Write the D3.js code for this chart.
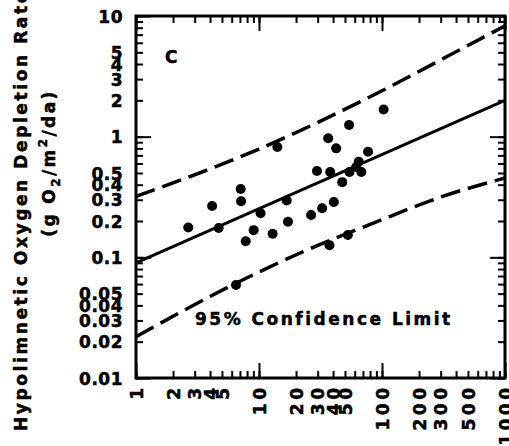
<!DOCTYPE html>
<html>
<head>
<meta charset="utf-8">
<script src="https://cdn.jsdelivr.net/npm/d3@7"></script>
<style>
body { margin: 0; background: #fff; }
svg { display: block; }
text { font-family: "DejaVu Sans", sans-serif; font-weight: bold; fill: #000; stroke: #000; stroke-width: 0.5px; }
</style>
</head>
<body>
<svg id="chart" width="509" height="446"></svg>
<script>
// tick labels
const xTickLabels = [1, 2, 3, 4, 5, 10, 20, 30, 40, 50, 100, 200, 300, 500, 1000];
const yTickLabels = [0.01, 0.02, 0.03, 0.04, 0.05, 0.1, 0.2, 0.3, 0.4, 0.5, 1, 2, 3, 4, 5, 10];

const obsX = [2.66, 4.16, 7.1, 7.15, 4.7, 10.3, 9.05, 7.8, 12.9, 17.2, 16.8, 14.1, 6.5,
	103, 54, 36.5, 42.4, 77, 64.7, 61.8, 67.9, 29.6, 37.9, 54.4, 47.5, 40.6, 32.6, 26.5, 52.8, 37.4];
const obsY = [0.177, 0.266, 0.368, 0.292, 0.175, 0.232, 0.168, 0.136, 0.157, 0.197, 0.296, 0.82, 0.059,
	1.68, 1.25, 0.97, 0.80, 0.75, 0.62, 0.56, 0.51, 0.52, 0.51, 0.51, 0.42, 0.287, 0.255, 0.224, 0.153, 0.126];

// regression line
const fitX = [1, 1000];
const fitY = [0.09, 2.0];

// 95% confidence limits
const upperX = [1, 10, 100, 350, 1000];
const upperY = [0.32, 0.79, 2.4, 4.7, 8.3];
const lowerX = [1, 6.5, 25, 85, 300, 1000];
const lowerY = [0.022, 0.061, 0.116, 0.192, 0.316, 0.454];

const chart = d3.select('#chart');

const plotLeft = 136, plotRight = 505, plotTop = 16, plotBottom = 378;

const x = d3.scaleLog().domain([1, 1000]).range([plotLeft, plotRight]);
const y = d3.scaleLog().domain([0.01, 10]).range([plotBottom, plotTop]);

const minorX = x.ticks();
const minorY = y.ticks();
const majorX = [1, 10, 100, 1000];
const majorY = [0.01, 0.1, 1, 10];

function ticks(axis, tr, values, size) {
	const g = chart.append('g')
		.attr('transform', tr)
		.call(axis.tickValues(values).tickSize(size).tickFormat(''));
	g.select('.domain').remove();
	g.selectAll('line').attr('stroke', '#000').attr('stroke-width', 2);
	return g;
}

// inward ticks on all four sides
ticks(d3.axisBottom(x), `translate(0,${plotBottom})`, minorX, -7);
ticks(d3.axisBottom(x), `translate(0,${plotBottom})`, majorX, -15);
ticks(d3.axisTop(x), `translate(0,${plotTop})`, minorX, -7);
ticks(d3.axisTop(x), `translate(0,${plotTop})`, majorX, -15);
ticks(d3.axisLeft(y), `translate(${plotLeft},0)`, minorY, -7);
ticks(d3.axisLeft(y), `translate(${plotLeft},0)`, majorY, -15);
ticks(d3.axisRight(y), `translate(${plotRight},0)`, minorY, -7);
ticks(d3.axisRight(y), `translate(${plotRight},0)`, majorY, -15);

// frame
chart.append('rect')
	.attr('x', plotLeft)
	.attr('y', plotTop)
	.attr('width', plotRight - plotLeft)
	.attr('height', plotBottom - plotTop)
	.attr('fill', 'none')
	.attr('stroke', '#000')
	.attr('stroke-width', 3);

// y labels
const yAx = chart.append('g')
	.attr('transform', `translate(${plotLeft},0)`)
	.call(d3.axisLeft(y).tickValues(yTickLabels).tickSize(0).tickPadding(13).tickFormat(d => String(d)));
yAx.select('.domain').remove();
yAx.selectAll('text')
	.attr('font-size', 17)
	.attr('letter-spacing', 0.5)
	.attr('font-family', '"DejaVu Sans", sans-serif')
	.attr('font-weight', 'bold')
	.attr('dy', '0.36em');

// x labels, rotated
const xAx = chart.append('g')
	.attr('transform', `translate(0,${plotBottom})`)
	.call(d3.axisBottom(x).tickValues(xTickLabels).tickSize(0).tickFormat(d => String(d)));
xAx.select('.domain').remove();
xAx.selectAll('text')
	.attr('font-size', 17)
	.attr('letter-spacing', 3.5)
	.attr('font-family', '"DejaVu Sans", sans-serif')
	.attr('font-weight', 'bold')
	.attr('transform', 'rotate(-90)')
	.attr('text-anchor', 'end')
	.attr('x', -6.5)
	.attr('y', 0)
	.attr('dy', '0.36em');

// plot
chart.append('clipPath').attr('id', 'clip')
	.append('rect').attr('x', plotLeft).attr('y', plotTop).attr('width', plotRight - plotLeft).attr('height', plotBottom - plotTop);

const plot = chart.append('g').attr('clip-path', 'url(#clip)');

const line = d3.line()
	.x(d => x(d[0]))
	.y(d => y(d[1]))
	.curve(d3.curveMonotoneX);

plot.append('path')
	.datum(d3.zip(fitX, fitY))
	.attr('d', line)
	.attr('fill', 'none')
	.attr('stroke', '#000')
	.attr('stroke-width', 3);

plot.selectAll('.limit')
	.data([d3.zip(upperX, upperY), d3.zip(lowerX, lowerY)])
	.enter()
	.append('path')
	.attr('class', 'limit')
	.attr('d', line)
	.attr('fill', 'none')
	.attr('stroke', '#000')
	.attr('stroke-width', 3.5)
	.attr('stroke-dasharray', '20,8');

plot.selectAll('circle')
	.data(d3.zip(obsX, obsY))
	.enter()
	.append('circle')
	.attr('cx', d => x(d[0]))
	.attr('cy', d => y(d[1]))
	.attr('r', 5)
	.attr('fill', '#000');

// annotations
chart.append('text')
	.attr('x', 165)
	.attr('y', 63)
	.attr('font-size', 17)
	.text('C');

chart.append('text')
	.attr('x', 195)
	.attr('y', 325)
	.attr('font-size', 17)
	.attr('letter-spacing', 2.5)
	.text('95% Confidence Limit');

// y title
chart.append('text')
	.attr('transform', 'translate(27,431) rotate(-90)')
	.attr('font-size', 17)
	.attr('letter-spacing', 2.6)
	.text('Hypolimnetic Oxygen Depletion Rate');

const unit = chart.append('text')
	.attr('transform', 'translate(55,163) rotate(-90)')
	.attr('font-size', 17)
	.attr('letter-spacing', 2.4)
	.attr('text-anchor', 'middle');
unit.append('tspan').text('(g O');
unit.append('tspan').attr('font-size', 12).attr('dy', 5).text('2');
unit.append('tspan').attr('dy', -5).text('/m');
unit.append('tspan').attr('font-size', 12).attr('dy', -8).text('2');
unit.append('tspan').attr('dy', 8).text('/da)');
</script>
</body>
</html>
